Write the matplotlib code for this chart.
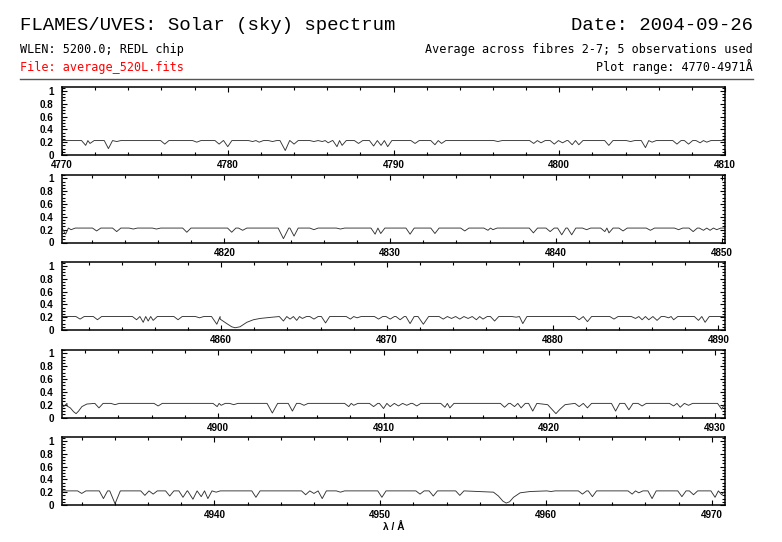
import matplotlib
matplotlib.use("Agg")
import matplotlib.pyplot as plt
from matplotlib.ticker import MultipleLocator, FormatStrFormatter

# ---------------- data ----------------
panel_start = [4770.0, 4810.2, 4850.4, 4890.6, 4930.8]
panel_end = [4810.0, 4850.2, 4890.4, 4930.6, 4970.8]
continuum = [0.225, 0.225, 0.21, 0.22, 0.22]

p1_center = [4771.43, 4771.69, 4772.80, 4773.3, 4776.2, 4778.13, 4779.48, 4780.0,
             4781.5, 4781.9, 4782.7, 4783.47, 4784.0, 4785.2, 4785.7, 4786.06,
             4786.59, 4786.9, 4787.89, 4788.8, 4789.25, 4789.65, 4791.3, 4792.5,
             4792.9, 4796.3, 4798.46, 4798.9, 4799.7, 4800.2, 4800.78, 4801.18,
             4802.99, 4804.3, 4805.2, 4805.6, 4807.1, 4807.8, 4808.5, 4808.9]
p1_min = [0.15, 0.18, 0.10, 0.21, 0.17, 0.20, 0.17, 0.13,
          0.21, 0.20, 0.21, 0.07, 0.17, 0.21, 0.21, 0.19,
          0.13, 0.15, 0.18, 0.14, 0.15, 0.13, 0.18, 0.16,
          0.18, 0.21, 0.18, 0.19, 0.17, 0.19, 0.16, 0.16,
          0.15, 0.21, 0.115, 0.20, 0.17, 0.17, 0.19, 0.20]

p2_center = [4810.42, 4810.75, 4812.29, 4813.5, 4814.5, 4815.9, 4817.73, 4820.44,
             4821.1, 4823.56, 4824.2, 4825.4, 4827.0, 4829.09, 4829.43, 4831.2,
             4832.7, 4834.5, 4835.9, 4836.2, 4838.64, 4839.65, 4840.35, 4840.95,
             4841.85, 4842.95, 4843.2, 4844.05, 4845.7, 4847.4, 4848.28, 4848.9,
             4849.3, 4849.7]
p2_min = [0.13, 0.20, 0.18, 0.17, 0.21, 0.21, 0.16, 0.16,
          0.19, 0.06, 0.10, 0.20, 0.21, 0.13, 0.14, 0.13,
          0.14, 0.18, 0.19, 0.20, 0.15, 0.17, 0.12, 0.12,
          0.20, 0.17, 0.15, 0.18, 0.19, 0.20, 0.17, 0.19,
          0.19, 0.20]

p3_center = [4851.49, 4852.54, 4854.9, 4855.3, 4855.6, 4855.9, 4857.4, 4858.7,
             4859.74, 4863.76, 4864.16, 4864.56, 4864.9, 4865.6, 4866.3, 4867.8,
             4868.2, 4869.5, 4870.2, 4870.8, 4871.4, 4872.2, 4873.4, 4873.9,
             4874.4, 4874.9, 4875.4, 4875.8, 4876.5, 4877.8, 4878.2, 4881.6,
             4882.1, 4883.7, 4885.0, 4885.4, 4885.8, 4886.3, 4887.0, 4887.3,
             4888.8, 4889.2]
p3_min = [0.17, 0.16, 0.16, 0.12, 0.14, 0.15, 0.16, 0.19,
          0.09, 0.14, 0.17, 0.15, 0.18, 0.17, 0.11, 0.17,
          0.19, 0.17, 0.17, 0.16, 0.10, 0.09, 0.17, 0.18,
          0.17, 0.18, 0.16, 0.17, 0.14, 0.20, 0.10, 0.16,
          0.13, 0.17, 0.18, 0.16, 0.16, 0.15, 0.19, 0.16,
          0.15, 0.12]
hbeta_wl = [4859.94, 4860.34, 4860.64, 4860.84, 4861.14, 4861.55, 4861.95, 4862.35, 4862.9]
hbeta_fx = [0.17, 0.10, 0.05, 0.035, 0.05, 0.12, 0.16, 0.18, 0.195]

p4_center = [4890.7, 4892.83, 4893.8, 4896.4, 4899.96, 4900.2, 4900.96, 4903.29,
             4904.5, 4905.2, 4907.9, 4908.2, 4909.4, 4910.0, 4910.4, 4910.9,
             4911.4, 4912.0, 4913.7, 4914.0, 4917.3, 4917.9, 4918.3, 4919.0,
             4921.8, 4922.3, 4924.0, 4924.8, 4925.6, 4927.5, 4927.9, 4928.4,
             4930.4]
p4_min = [0.17, 0.15, 0.20, 0.18, 0.17, 0.19, 0.20, 0.07,
          0.10, 0.19, 0.17, 0.19, 0.17, 0.14, 0.17, 0.18,
          0.19, 0.18, 0.16, 0.15, 0.16, 0.17, 0.15, 0.10,
          0.17, 0.15, 0.10, 0.12, 0.18, 0.18, 0.16, 0.19,
          0.13]
fe4891_wl = [4890.9, 4891.1, 4891.3, 4891.45, 4891.6, 4891.8, 4892.1]
fe4891_fx = [0.18, 0.15, 0.09, 0.06, 0.10, 0.17, 0.21]
fe4920_wl = [4919.9, 4920.15, 4920.4, 4920.65, 4920.95]
fe4920_fx = [0.20, 0.13, 0.06, 0.13, 0.20]

p5_center = [4931.99, 4933.3, 4934.0, 4935.8, 4936.3, 4937.3, 4938.1, 4938.7,
             4939.2, 4939.6, 4940.1, 4942.5, 4945.5, 4946.0, 4946.5, 4947.6,
             4950.1, 4952.4, 4953.2, 4954.8, 4960.3, 4962.2, 4962.8, 4965.2,
             4965.6, 4966.4, 4968.2, 4968.9, 4970.2, 4970.6]
p5_min = [0.18, 0.10, 0.02, 0.15, 0.17, 0.14, 0.12, 0.09,
          0.13, 0.10, 0.20, 0.12, 0.16, 0.18, 0.10, 0.20,
          0.12, 0.17, 0.14, 0.15, 0.21, 0.17, 0.13, 0.17,
          0.19, 0.10, 0.13, 0.16, 0.12, 0.16]
fe4957_wl = [4956.83, 4957.13, 4957.40, 4957.60, 4957.80, 4958.04, 4958.44, 4959.04]
fe4957_fx = [0.20, 0.14, 0.06, 0.03, 0.05, 0.12, 0.19, 0.21]

panel_lines = [(p1_center, p1_min, []),
               (p2_center, p2_min, []),
               (p3_center, p3_min, [(hbeta_wl, hbeta_fx)]),
               (p4_center, p4_min, [(fe4891_wl, fe4891_fx), (fe4920_wl, fe4920_fx)]),
               (p5_center, p5_min, [(fe4957_wl, fe4957_fx)])]

title_left = "FLAMES/UVES: Solar (sky) spectrum"
title_right = "Date: 2004-09-26"
info_left = "WLEN: 5200.0; REDL chip"
info_right = "Average across fibres 2-7; 5 observations used"
file_text = "File: average_520L.fits"
range_text = "Plot range: 4770-4971\u00c5"


def build_polyline(start, end, cont, centers, mins, broad):
    feats = [("n", c, m) for c, m in zip(centers, mins)]
    feats += [("b", bw, bf) for bw, bf in broad]
    feats.sort(key=lambda f: f[1] if f[0] == "n" else f[1][0])
    wl, fx = [start], [cont]
    last_edge = start
    for i, f in enumerate(feats):
        if f[0] == "n":
            c, m = f[1], f[2]
            hw = 0.32 if m < 0.1 else 0.25
            if i + 1 < len(feats):
                nxt = feats[i + 1]
                right_lim = (c + nxt[1]) / 2 if nxt[0] == "n" else nxt[1][0]
            else:
                right_lim = end
            left = max(c - hw, last_edge)
            right = min(c + hw, right_lim)
            if left > wl[-1]:
                wl.append(left); fx.append(cont)
            wl.append(c); fx.append(m)
            wl.append(right); fx.append(cont)
            last_edge = right
        else:
            wl.extend(f[1]); fx.extend(f[2])
            last_edge = f[1][-1]
    wl.append(end); fx.append(cont)
    return wl, fx


W, H = 782, 542
fig = plt.figure(figsize=(W / 100, H / 100), dpi=100)

mono = "DejaVu Sans Mono"
fig.text(20 / W, 1 - 26 / H, title_left, family="Liberation Mono", fontsize=13.7,
         ha="left", va="center")
fig.text(753 / W, 1 - 26 / H, title_right, family="Liberation Mono", fontsize=13.7,
         ha="right", va="center")
fig.text(20 / W, 1 - 50 / H, info_left, family=mono, fontsize=8.5, ha="left", va="center")
fig.text(753 / W, 1 - 50 / H, info_right, family=mono, fontsize=8.5, ha="right", va="center")
fig.text(20 / W, 1 - 67 / H, file_text, family=mono, fontsize=8.5, ha="left", va="center",
         color="#ff0000")
fig.text(753 / W, 1 - 67 / H, range_text, family=mono, fontsize=8.5, ha="right", va="center")
fig.add_artist(plt.Line2D([20 / W, 753 / W], [1 - 79 / H, 1 - 79 / H],
                          color="#555555", lw=1.0, transform=fig.transFigure))

left_px, right_px = 62, 725
for i in range(5):
    bottom_px = 155 + 87.5 * i
    ax = fig.add_axes([left_px / W, 1 - bottom_px / H, (right_px - left_px) / W, 68 / H])
    centers, mins, broad = panel_lines[i]
    wl, fx = build_polyline(panel_start[i], panel_end[i], continuum[i], centers, mins, broad)
    ax.plot(wl, fx, color="#333333", lw=0.65)
    ax.set_xlim(panel_start[i], panel_end[i])
    ax.set_ylim(0, 1.06)
    ax.xaxis.set_major_locator(MultipleLocator(10))
    ax.xaxis.set_minor_locator(MultipleLocator(2))
    ax.yaxis.set_minor_locator(MultipleLocator(0.05))
    ax.xaxis.set_major_formatter(FormatStrFormatter("%d"))
    ax.set_yticks([0, 0.2, 0.4, 0.6, 0.8, 1.0])
    ax.set_yticklabels(["0", "0.2", "0.4", "0.6", "0.8", "1"])
    ax.tick_params(which="both", direction="in", top=True, right=True, width=0.8)
    ax.tick_params(which="major", length=3.5)
    ax.tick_params(which="minor", length=2.2)
    ax.tick_params(axis="x", pad=3.8)
    ax.tick_params(axis="y", pad=6)
    for lab in ax.get_xticklabels() + ax.get_yticklabels():
        lab.set_family("Liberation Sans")
        lab.set_fontweight("bold")
        lab.set_fontsize(7.1)
    for sp in ax.spines.values():
        sp.set_linewidth(1.1)
    if i == 4:
        ax.set_xlabel("\u03bb / \u00c5", family="Liberation Sans", fontweight="bold",
                      fontsize=7.3, labelpad=1)

fig.savefig("out.png", dpi=100)
